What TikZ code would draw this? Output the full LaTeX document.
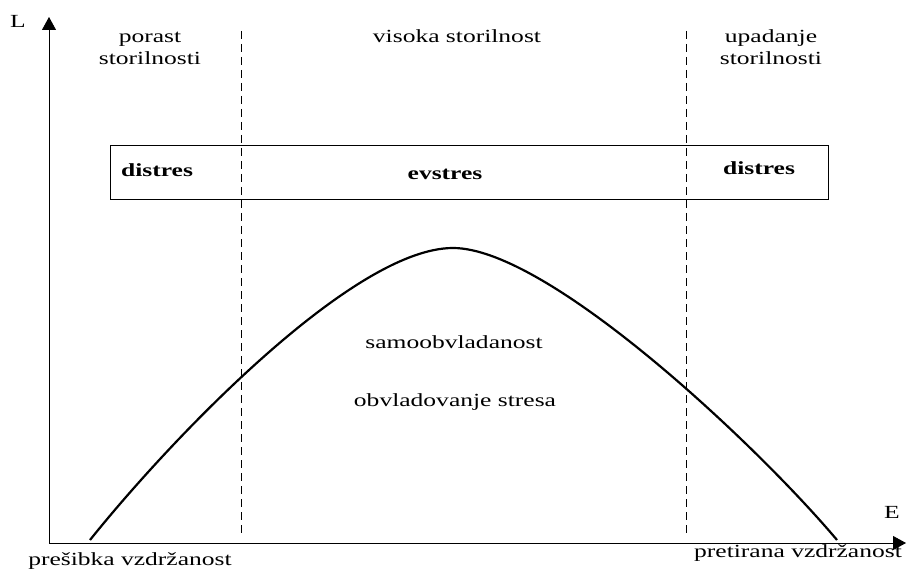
\documentclass[tikz,border=0pt]{standalone}
\usepackage{fontspec}
\setmainfont{Liberation Serif}[FakeStretch=1.38]
\usetikzlibrary{arrows.meta}
\newcommand\labelsize{\fontsize{18.5}{22}\selectfont}
\tikzset{
  axis/.style={line width=0.9pt,-{Triangle[length=13pt,width=14pt]}},
  divider/.style={line width=0.8pt,dash pattern=on 8pt off 5pt},
  phase/.style={anchor=base,inner sep=0pt,align=center},
  stresstext/.style={anchor=base,inner sep=0pt,font=\labelsize\bfseries}
}
\begin{document}
\begin{tikzpicture}[x=1pt,y=-1pt,font=\labelsize]
\useasboundingbox (0,0) rectangle (907,572);
% axes
\coordinate (origin) at (49,543);
\coordinate (ytip) at (49,17);
\coordinate (xtip) at (906,543);
\draw[axis] (origin) -- (ytip);
\draw[axis] (origin) -- (xtip);
\node[anchor=base,inner sep=0pt] (L) at (18,28) {L};
\node[anchor=base,inner sep=0pt] (E) at (892,518) {E};
% dividers between the phases
\coordinate (d1top) at (241,31);
\coordinate (d1bot) at (241,535);
\coordinate (d2top) at (686,31);
\coordinate (d2bot) at (686,535);
\draw[divider] (d1top) -- (d1bot);
\draw[divider] (d2top) -- (d2bot);
% stress band
\node[draw,line width=0.8pt,minimum width=718pt,minimum height=54pt,inner sep=0pt] (band) at (469,172) {};
\node[stresstext] (distresL) at (157,177) {distres};
\node[stresstext] (evstres) at (445,179) {evstres};
\node[stresstext] (distresR) at (759,175) {distres};
% curve
\coordinate (cstart) at (90,540);
\coordinate (peak) at (453,248);
\coordinate (cend) at (837,540);
\draw[line width=2.2pt] (cstart) .. controls (170,440) and (353,248) .. (peak)
  .. controls (548,248) and (757,445) .. (cend);
% labels (base = last line)
\node[phase] (porast) at (150,65) {porast\\storilnosti};
\node[phase] (visoka) at (457,43) {visoka storilnost};
\node[phase] (upadanje) at (771,65) {upadanje\\storilnosti};
\node[phase] (samo) at (454,348) {samoobvladanost};
\node[phase] (obvl) at (455,406) {obvladovanje stresa};
\node[phase] (presibka) at (130,565) {prešibka vzdržanost};
\node[phase] (pretirana) at (798,557) {pretirana vzdržanost};
\end{tikzpicture}
\end{document}
